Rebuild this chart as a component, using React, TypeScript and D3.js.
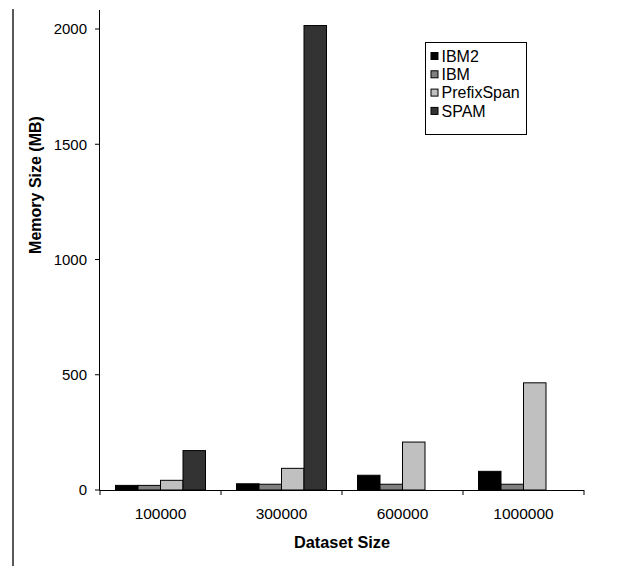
import React from "react";
import * as d3 from "d3";

const categories = ["100000", "300000", "600000", "1000000"];
const seriesNames = ["IBM2", "IBM", "PrefixSpan", "SPAM"];
const ibm2 = [20, 27, 64, 81];
const ibm = [20, 25, 25, 25];
const prefixSpan = [42, 94, 208, 465];
const spam: (number | null)[] = [171, 2015, null, null];
const yTicks = [0, 500, 1000, 1500, 2000];
const colors = ["#000000", "#808080", "#c0c0c0", "#333333"];

const W = 621;
const H = 566;
const FONT = "Liberation Sans, Arial, sans-serif";

export default function App() {
  const x0 = d3.scaleBand<string>().domain(categories).range([100, 584]).paddingInner(0).paddingOuter(0);
  const x1 = d3
    .scaleBand<string>()
    .domain(seriesNames)
    .range([0, x0.bandwidth()])
    .paddingOuter(0.689)
    .paddingInner(0);
  const y = d3.scaleLinear().domain([0, 2000]).range([490, 29]);
  const data = [ibm2, ibm, prefixSpan, spam];

  return (
    <svg
      width={W}
      height={H}
      style={{ position: "absolute", left: 0, top: 0, background: "#fff" }}
      fontFamily={FONT}
    >
      <rect x={0} y={0} width={W} height={H} fill="#fff" />
      {/* left frame line */}
      <line x1={13} x2={13} y1={9} y2={H} stroke="#222" strokeWidth={1.5} />

      {/* bars */}
      {categories.map((c, ci) => (
        <g key={c}>
          {seriesNames.map((s, si) => {
            const v = data[si][ci];
            if (v == null) return null;
            const bx = (x0(c) ?? 0) + (x1(s) ?? 0);
            return (
              <rect
                key={s}
                x={bx}
                y={y(v)}
                width={x1.bandwidth()}
                height={y(0) - y(v)}
                fill={colors[si]}
                stroke="#000"
                strokeWidth={1}
              />
            );
          })}
        </g>
      ))}

      {/* y axis */}
      <line x1={99.5} x2={99.5} y1={10} y2={490} stroke="#000" strokeWidth={1} />
      {yTicks.map((t) => (
        <g key={t}>
          <line x1={95} x2={99.5} y1={y(t)} y2={y(t)} stroke="#000" />
          <text x={87} y={y(t)} dy="0.35em" textAnchor="end" fontSize={15} fill="#000">
            {t}
          </text>
        </g>
      ))}
      <text
        transform={`translate(41,185) rotate(-90)`}
        textAnchor="middle"
        fontSize={16}
        fontWeight="bold"
        fill="#000"
      >
        Memory Size (MB)
      </text>

      {/* x axis */}
      <line x1={99.5} x2={584} y1={490.5} y2={490.5} stroke="#000" strokeWidth={1} />
      {[...categories.map((c) => x0(c) ?? 0), 584].map((tx, i) => (
        <line key={i} x1={tx} x2={tx} y1={490} y2={495} stroke="#000" />
      ))}
      {categories.map((c) => (
        <text
          key={c}
          x={(x0(c) ?? 0) + x0.bandwidth() / 2}
          y={519}
          textAnchor="middle"
          fontSize={15.5}
          fill="#000"
        >
          {c}
        </text>
      ))}
      <text x={342} y={548} textAnchor="middle" fontSize={16.3} fontWeight="bold" fill="#000">
        Dataset Size
      </text>

      {/* legend */}
      <rect x={425.5} y={42.5} width={101} height={92} fill="#fff" stroke="#000" strokeWidth={1} />
      {seriesNames.map((s, i) => {
        const cy = 56 + i * 18.3;
        return (
          <g key={s}>
            <rect x={431} y={cy - 3.5} width={7} height={7} fill={colors[i]} stroke="#000" strokeWidth={1} />
            <text x={441.5} y={cy} dy="0.35em" fontSize={16} fill="#000">
              {s}
            </text>
          </g>
        );
      })}
    </svg>
  );
}
